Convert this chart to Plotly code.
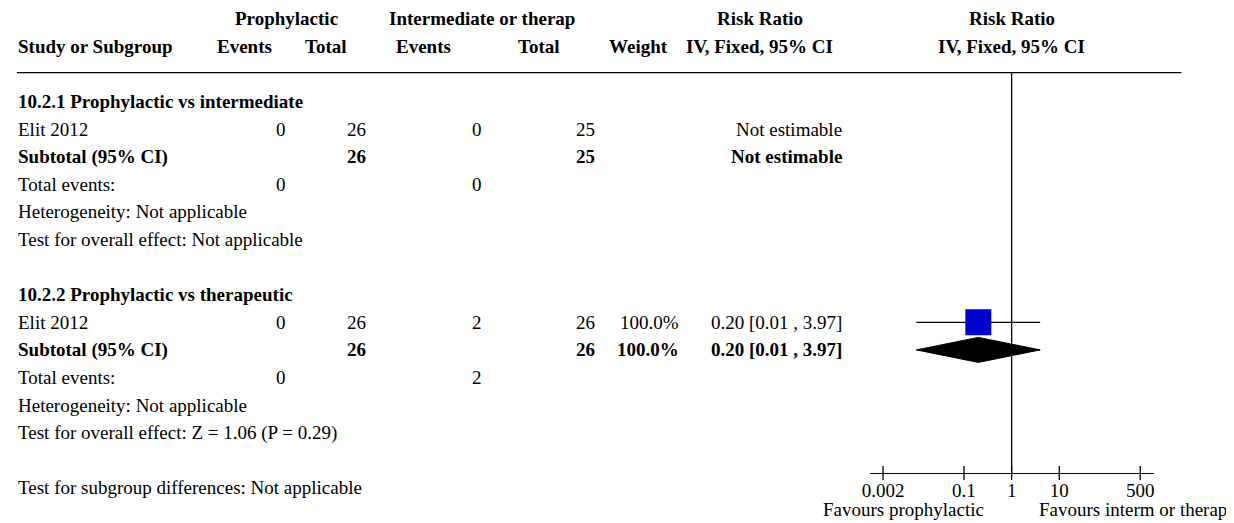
import plotly.graph_objects as go

OFF = 8                      # browser body margin
W, H = 1234 - OFF, 523 - OFF
FONT = "Liberation Serif"
FS = 19

# ---------------- data ----------------
group_titles = ["10.2.1 Prophylactic vs intermediate", "10.2.2 Prophylactic vs therapeutic"]
study_names = ["Elit 2012", "Elit 2012"]
proph_events = [0, 0]
proph_total = [26, 26]
interm_events = [0, 2]
interm_total = [25, 26]
study_weight = ["", "100.0%"]
study_rr = [None, 0.20]
study_lo = [None, 0.01]
study_hi = [None, 3.97]
sub_weight = ["", "100.0%"]
sub_rr = [None, 0.20]
sub_lo = [None, 0.01]
sub_hi = [None, 3.97]
heterogeneity = ["Heterogeneity: Not applicable", "Heterogeneity: Not applicable"]
overall_effect = ["Test for overall effect: Not applicable",
                  "Test for overall effect: Z = 1.06 (P = 0.29)"]
subgroup_diff = "Test for subgroup differences: Not applicable"
tick_vals = [0.002, 0.1, 1, 10, 500]
tick_text = ["0.002", "0.1", "1", "10", "500"]
favours_left = "Favours prophylactic"
favours_right = "Favours interm or therap"

# ---------------- layout helpers (page pixel coordinates) ----------------
ROW0 = 101.5   # page y of first row
ROWH = 27.6    # row spacing
def row_of(py):
    return (py - ROW0) / ROWH

def pxx(xpage):
    return (xpage - OFF) / W

AXIS_PY = 473
AX_LEFT, AX_RIGHT = 868, 1154
DEC = 48.0
CENTER_PX = 1011
r0 = (AX_LEFT - CENTER_PX) / DEC
r1 = (AX_RIGHT - CENTER_PX) / DEC

PAD = 2
X_TEXT = 10 - PAD
X_EV1, X_TOT1, X_EV2, X_TOT2, X_W, X_CI = 280, 361, 477, 591, 676, 840

fig = go.Figure()
ann = []

def txt(px, row, s, anchor="left", bold=False, size=FS):
    if anchor == "right":
        px = px + PAD
    ann.append(dict(x=pxx(px), xref="paper", y=row, yref="y", text=("<b>%s</b>" % s) if bold else s,
                    showarrow=False, xanchor=anchor, yanchor="middle",
                    font=dict(family=FONT, size=size, color="black")))

def fmt_ci(rr, lo, hi):
    if rr is None:
        return "Not estimable"
    return "%.2f [%.2f , %.2f]" % (rr, lo, hi)

# headers
txt(280, -3, "Prophylactic", "center", True)
txt(477, -3, "Intermediate or therap", "center", True)
txt(757, -3, "Risk Ratio", "center", True)
txt(1011, -3, "Risk Ratio", "center", True)
txt(X_TEXT, -2, "Study or Subgroup", "left", True)
txt(238, -2, "Events", "center", True)
txt(320, -2, "Total", "center", True)
txt(419, -2, "Events", "center", True)
txt(535, -2, "Total", "center", True)
txt(635, -2, "Weight", "center", True)
txt(757, -2, "IV, Fixed, 95% CI", "center", True)
txt(1011, -2, "IV, Fixed, 95% CI", "center", True)

for g in range(len(group_titles)):
    base = g * 7
    txt(X_TEXT, base, group_titles[g], bold=True)
    # study row
    r = base + 1
    txt(X_TEXT, r, study_names[g])
    txt(X_EV1, r, str(proph_events[g]), "right")
    txt(X_TOT1, r, str(proph_total[g]), "right")
    txt(X_EV2, r, str(interm_events[g]), "right")
    txt(X_TOT2, r, str(interm_total[g]), "right")
    if study_weight[g]:
        txt(X_W, r, study_weight[g], "right")
    txt(X_CI, r, fmt_ci(study_rr[g], study_lo[g], study_hi[g]), "right")
    if study_rr[g] is not None:
        fig.add_trace(go.Scatter(x=[study_lo[g], study_hi[g]], y=[r, r], mode="lines",
                                 line=dict(color="black", width=1.3), showlegend=False, hoverinfo="skip"))
        fig.add_trace(go.Scatter(x=[study_rr[g]], y=[r], mode="markers",
                                 marker=dict(symbol="square", size=26, color="#0000CC",
                                             line=dict(width=0)),
                                 showlegend=False, hoverinfo="skip"))
    # subtotal row
    r = base + 2
    txt(X_TEXT, r, "Subtotal (95% CI)", bold=True)
    txt(X_TOT1, r, str(proph_total[g]), "right", True)
    txt(X_TOT2, r, str(interm_total[g]), "right", True)
    if sub_weight[g]:
        txt(X_W, r, sub_weight[g], "right", True)
    txt(X_CI, r, fmt_ci(sub_rr[g], sub_lo[g], sub_hi[g]), "right", True)
    if sub_rr[g] is not None:
        h = 12.5 / ROWH
        fig.add_trace(go.Scatter(x=[sub_lo[g], sub_rr[g], sub_hi[g], sub_rr[g], sub_lo[g]],
                                 y=[r, r - h, r, r + h, r], mode="lines", fill="toself",
                                 fillcolor="black", line=dict(color="black", width=1),
                                 showlegend=False, hoverinfo="skip"))
    # total events
    r = base + 3
    txt(X_TEXT, r, "Total events:")
    txt(X_EV1, r, str(proph_events[g]), "right")
    txt(X_EV2, r, str(interm_events[g]), "right")
    txt(X_TEXT, base + 4, heterogeneity[g])
    txt(X_TEXT, base + 5, overall_effect[g])

txt(X_TEXT, 14, subgroup_diff)

# favours labels
fav_row = row_of(509)
txt(983, fav_row, favours_left, "right")
txt(1039 - PAD, fav_row, favours_right, "left")

axis_row = row_of(AXIS_PY)
# vertical line of no effect
fig.add_trace(go.Scatter(x=[1, 1], y=[row_of(72.7), axis_row], mode="lines",
                         line=dict(color="black", width=1.3), showlegend=False, hoverinfo="skip"))
# tick marks crossing the axis line
fig.add_trace(go.Scatter(x=tick_vals, y=[axis_row] * len(tick_vals), mode="markers",
                         marker=dict(symbol="line-ns", size=10, line=dict(color="black", width=1.3)),
                         showlegend=False, hoverinfo="skip"))

# header separator line
fig.add_shape(type="line", xref="paper", yref="y", x0=pxx(9), x1=pxx(1182),
              y0=row_of(72.7), y1=row_of(72.7), line=dict(color="black", width=1.3))

fig.update_layout(
    width=W, height=H, margin=dict(l=0, r=0, t=0, b=0),
    paper_bgcolor="white", plot_bgcolor="white",
    annotations=ann,
    xaxis=dict(type="log", domain=[pxx(AX_LEFT), pxx(AX_RIGHT)], range=[r0, r1],
               anchor="free", position=1 - (AXIS_PY - OFF) / H,
               showline=True, linecolor="black", linewidth=1.3, ticks="",
               tickvals=tick_vals, ticktext=tick_text, showgrid=False, zeroline=False,
               tickfont=dict(family=FONT, size=FS, color="black")),
    yaxis=dict(domain=[0, 1], range=[row_of(523), row_of(OFF)], visible=False,
               showgrid=False, zeroline=False),
    font=dict(family=FONT, size=FS, color="black"),
)

fig.write_html("out.html")
